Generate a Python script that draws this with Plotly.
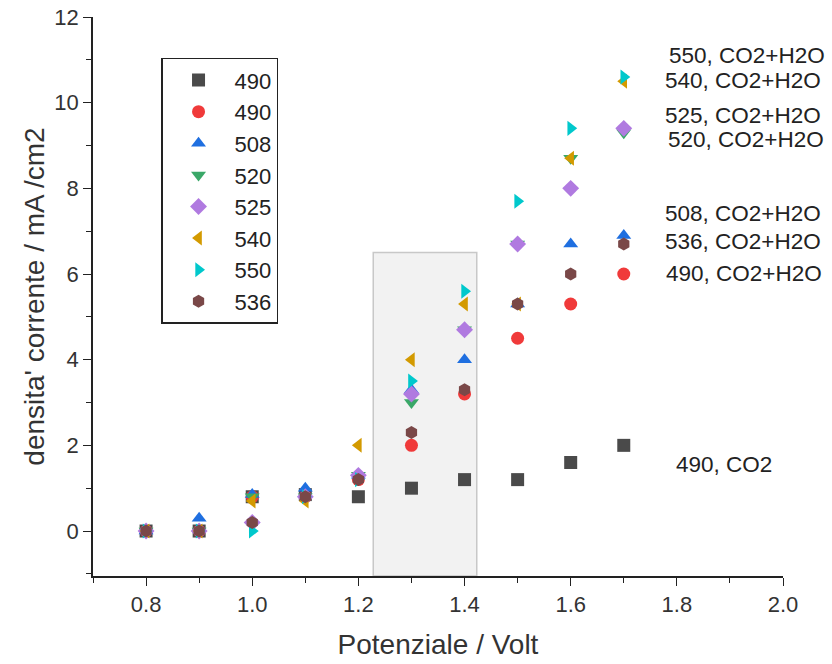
import plotly.graph_objects as go

potential = [0.8, 0.9, 1.0, 1.1, 1.2, 1.3, 1.4, 1.5, 1.6, 1.7]

s490_co2 = [0.0, 0.0, 0.8, 0.85, 0.8, 1.0, 1.2, 1.2, 1.6, 2.0]
s490_h2o = [0.0, 0.0, 0.8, 0.8, 1.2, 2.0, 3.2, 4.5, 5.3, 6.0]
s508 = [0.0, 0.3, 0.85, 1.0, 1.3, 3.3, 4.0, 5.3, 6.7, 6.9]
s520 = [0.0, 0.0, 0.8, 0.8, 1.3, 3.0, 4.7, 6.7, 8.7, 9.3]
s525 = [0.0, 0.0, 0.2, 0.8, 1.3, 3.2, 4.7, 6.7, 8.0, 9.4]
s540 = [0.0, 0.0, 0.7, 0.7, 2.0, 4.0, 5.3, 5.3, 8.7, 10.5]
s550 = [0.0, 0.0, 0.0, 0.8, 1.2, 3.5, 5.6, 7.7, 9.4, 10.6]
s536 = [0.0, 0.0, 0.2, 0.8, 1.2, 2.3, 3.3, 5.3, 6.0, 6.7]

series = [
    ("490", s490_co2, "square", "#4a4a4a"),
    ("490", s490_h2o, "circle", "#f03a3a"),
    ("508", s508, "triangle-up", "#1f6fe0"),
    ("520", s520, "triangle-down", "#3aa868"),
    ("525", s525, "diamond", "#b07ae0"),
    ("540", s540, "triangle-left", "#d39a00"),
    ("550", s550, "triangle-right", "#00c8cc"),
    ("536", s536, "hexagon", "#7a4848"),
]

label_texts = ["550, CO2+H2O", "540, CO2+H2O", "525, CO2+H2O", "520, CO2+H2O",
               "508, CO2+H2O", "536, CO2+H2O", "490, CO2+H2O", "490, CO2"]
label_y = [11.09, 10.51, 9.71, 9.13, 7.42, 6.77, 6.02, 1.56]
label_x = [1.781, 1.774, 1.774, 1.780, 1.774, 1.774, 1.776, 1.795]

FONT = "Liberation Sans, Arial, sans-serif"

fig = go.Figure()

fig.add_shape(type="rect", x0=1.228, x1=1.423, y0=-1.05, y1=6.5,
              xref="x", yref="y", fillcolor="#f2f2f2",
              line=dict(color="#c8c8c8", width=1.5), layer="below")

for name, ys, sym, col in series:
    fig.add_trace(go.Scatter(x=potential, y=ys, mode="markers", name=name,
                             marker=dict(symbol=sym, color=col, size=13,
                                         line=dict(width=0))))

for t, xx, yy in zip(label_texts, label_x, label_y):
    fig.add_annotation(x=xx, y=yy, text=t, showarrow=False, xanchor="left",
                       yanchor="middle", font=dict(size=22.5, color="#222"))

axis_font = dict(family=FONT, size=22, color="#333")
fig.update_layout(
    width=832, height=664,
    margin=dict(l=93, r=49, t=17, b=88, autoexpand=False),
    paper_bgcolor="white", plot_bgcolor="white",
    font=dict(family=FONT, color="#222"),
    showlegend=True,
    legend=dict(x=0.0986, y=0.927, xanchor="left", yanchor="top",
                bordercolor="#222", borderwidth=1.5, bgcolor="white",
                font=dict(size=22, color="#222"), itemwidth=62,
                tracegroupgap=0),
    xaxis=dict(range=[0.7, 2.0], dtick=0.2, tick0=0.8, tickformat=".1f",
               automargin=False,
               showgrid=False, zeroline=False, showline=True, linecolor="#222",
               linewidth=1.5, ticks="outside", ticklen=8, tickcolor="#222",
               tickfont=axis_font,
               minor=dict(dtick=0.1, ticks="outside", ticklen=5, tickcolor="#222", showgrid=False),
               title=dict(text="Potenziale / Volt", font=dict(size=28, color="#333"), standoff=18)),
    yaxis=dict(range=[-1.05, 12], dtick=2, tick0=0,
               automargin=False,
               showgrid=False, zeroline=False, showline=True, linecolor="#222",
               linewidth=1.5, ticks="outside", ticklen=8, tickcolor="#222",
               tickfont=axis_font,
               minor=dict(dtick=1, ticks="outside", ticklen=5, tickcolor="#222", showgrid=False),
               title=dict(text="densita' corrente / mA /cm2", font=dict(size=28, color="#333"), standoff=2)),
)

fig.write_html("out.html")
